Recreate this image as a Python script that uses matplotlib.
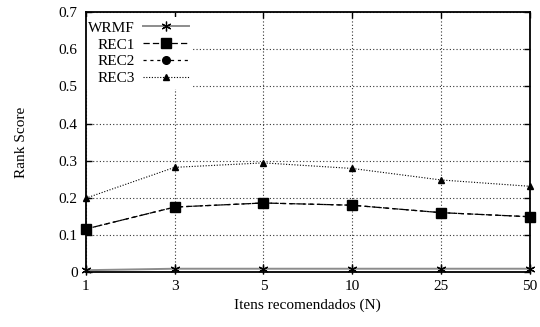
import matplotlib
matplotlib.use("Agg")
import matplotlib.pyplot as plt

plt.rcParams['font.family'] = ['Liberation Serif', 'DejaVu Serif']

n_labels = ["1", "3", "5", "10", "25", "50"]
wrmf = [0.005, 0.009, 0.009, 0.009, 0.009, 0.009]
rec1 = [0.116, 0.175, 0.186, 0.180, 0.160, 0.149]
rec2 = [0.116, 0.175, 0.186, 0.180, 0.160, 0.149]
rec3 = [0.199, 0.282, 0.294, 0.279, 0.248, 0.231]
y_ticks = [0, 0.1, 0.2, 0.3, 0.4, 0.5, 0.6, 0.7]

fig = plt.figure(figsize=(5.4, 3.27), dpi=100)
ax = fig.add_axes([0.159, 0.168, 0.822, 0.795])

x = list(range(len(n_labels)))

ax.plot(x, wrmf, color='0.55', lw=1.4, marker=(6, 2, 0), ms=7,
        mec='black', mew=0.9, label='WRMF', clip_on=False, zorder=3)
ax.plot(x, rec2, color='black', lw=0.9, ls=(0, (2.5, 3)), marker='o', ms=5.5,
        label='REC2', clip_on=False, zorder=3)
ax.plot(x, rec1, color='black', lw=0.9, ls=(0, (5, 2.5)), marker='s', ms=7,
        label='REC1', clip_on=False, zorder=4)
ax.plot(x, rec3, color='black', lw=0.8, ls=(0, (1, 1.5)), marker='^', ms=5,
        label='REC3', clip_on=False, zorder=4)

ax.set_xlim(0, len(n_labels) - 1)
ax.set_ylim(0, 0.7)
ax.set_xticks(x)
ax.set_xticklabels(n_labels)
ax.set_yticks(y_ticks)
ax.set_yticklabels(["0", "0.1", "0.2", "0.3", "0.4", "0.5", "0.6", "0.7"])

ax.tick_params(direction='in', top=True, right=True, length=4, width=1,
               labelsize=11, pad=6)
ax.grid(True, color='0.2', lw=0.8, ls=(0, (1, 2)))
ax.set_axisbelow(True)
for s in ax.spines.values():
    s.set_linewidth(1.3)

ax.set_xlabel("Itens recomendados (N)", fontsize=11, labelpad=4)
ax.set_ylabel("Rank Score", fontsize=11, labelpad=22)

handles, labels = ax.get_legend_handles_labels()
order = [labels.index(k) for k in ["WRMF", "REC1", "REC2", "REC3"]]
leg = ax.legend([handles[i] for i in order], [labels[i] for i in order],
                loc='upper left', bbox_to_anchor=(-0.003, 0.98), markerfirst=False,
                fontsize=11, handlelength=3.0, handletextpad=0.5,
                labelspacing=0.2, borderpad=0.25, borderaxespad=0.0,
                frameon=True, fancybox=False, framealpha=1.0)
leg.get_frame().set_edgecolor('none')
leg.get_frame().set_facecolor('white')
leg.set_zorder(2.4)

fig.savefig("out.png", dpi=100)
